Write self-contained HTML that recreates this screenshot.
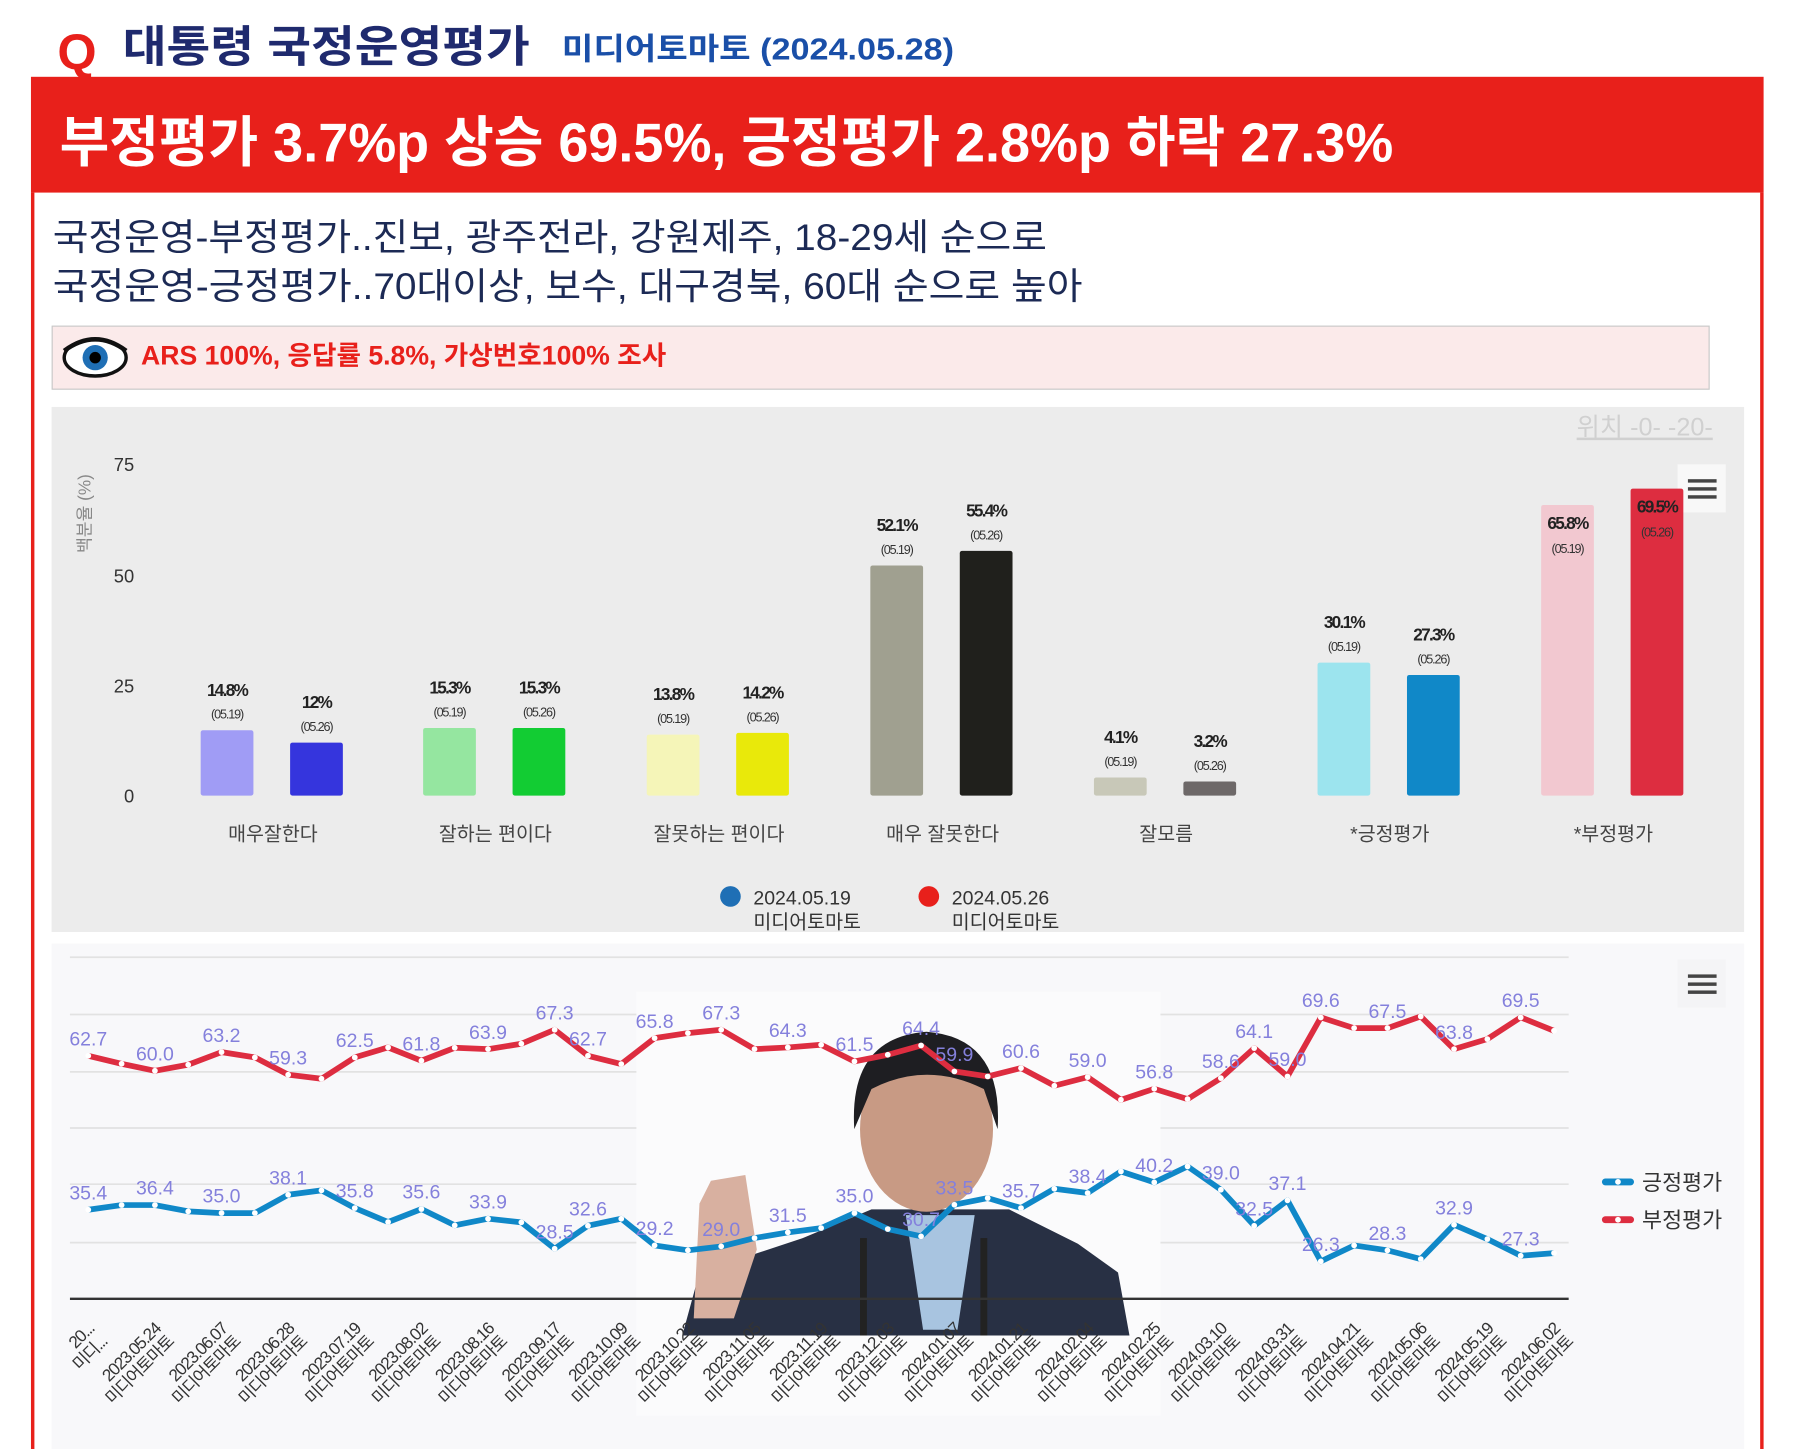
<!DOCTYPE html>
<html><head><meta charset="utf-8">
<style>
html,body{margin:0;padding:0;background:#fff;}
svg{display:block;}
text{font-family:"Liberation Sans","Noto Sans CJK KR",sans-serif;}
</style></head>
<body>
<svg id="s" width="1798" height="1449" viewBox="0 0 1568 1264" preserveAspectRatio="none" xmlns="http://www.w3.org/2000/svg">
<rect width="1568" height="1264" fill="#fff"/>
<text x="50" y="60" font-size="44" font-weight="bold" fill="#e8201b" font-family="Liberation Serif, serif">Q</text>
<text x="107" y="54" font-size="38" font-weight="bold" fill="#1f2a6e" textLength="355" lengthAdjust="spacingAndGlyphs">대통령 국정운영평가</text>
<text x="490" y="52" font-size="27" font-weight="bold" fill="#1a4fa8" textLength="342" lengthAdjust="spacingAndGlyphs">미디어토마토 (2024.05.28)</text>
<rect x="27" y="67" width="1511" height="101" fill="#e8201b"/>
<text x="52" y="141" font-size="48" font-weight="bold" fill="#fff" textLength="1163" lengthAdjust="spacingAndGlyphs">부정평가 3.7%p 상승 69.5%, 긍정평가 2.8%p 하락 27.3%</text>
<rect x="27" y="168" width="3" height="1096" fill="#e8201b"/>
<rect x="1535" y="168" width="3" height="1096" fill="#e8201b"/>
<text x="46" y="218" font-size="32" fill="#1c2a55" textLength="867" lengthAdjust="spacingAndGlyphs">국정운영-부정평가..진보, 광주전라, 강원제주, 18-29세 순으로</text>
<text x="46" y="261" font-size="32" fill="#1c2a55" textLength="898" lengthAdjust="spacingAndGlyphs">국정운영-긍정평가..70대이상, 보수, 대구경북, 60대 순으로 높아</text>
<rect x="45.5" y="284.5" width="1445" height="55" fill="#fbeaea" stroke="#c8c8c8"/>
<ellipse cx="83" cy="312" rx="27" ry="16" fill="#fff" stroke="#111" stroke-width="3"/>
<circle cx="83" cy="312" r="11" fill="#1f6fb5"/>
<circle cx="83" cy="312" r="5" fill="#000"/>
<path d="M56 306 Q83 286 110 306" fill="none" stroke="#111" stroke-width="4"/>
<text x="123" y="318" font-size="23" font-weight="bold" fill="#e8201b" textLength="458" lengthAdjust="spacingAndGlyphs">ARS 100%, 응답률 5.8%, 가상번호100% 조사</text>
<rect x="45" y="355" width="1476" height="458" fill="#ececec"/>
<text x="1375" y="380" font-size="22" fill="#d0d0d0" text-decoration="underline">위치 -0- -20-</text>
<rect x="1463" y="405" width="42" height="42" fill="#f8f8f8"/>
<rect x="1472" y="418" width="25" height="3" fill="#444"/><rect x="1472" y="425" width="25" height="3" fill="#444"/><rect x="1472" y="432" width="25" height="3" fill="#444"/>
<g font-size="16" fill="#333" text-anchor="end">
<text x="117" y="411">75</text><text x="117" y="508">50</text><text x="117" y="604">25</text><text x="117" y="700">0</text>
</g>
<text transform="translate(79,448) rotate(-90)" font-size="15" fill="#888" text-anchor="middle">백분율 (%)</text>
<g id="bars"></g>
<circle cx="637" cy="782" r="9" fill="#1f6fb5"/>
<text x="657" y="789" font-size="17" fill="#333">2024.05.19</text>
<text x="657" y="810" font-size="17" fill="#333">미디어토마토</text>
<circle cx="810" cy="782" r="9" fill="#e8201b"/>
<text x="830" y="789" font-size="17" fill="#333">2024.05.26</text>
<text x="830" y="810" font-size="17" fill="#333">미디어토마토</text>
<rect x="45" y="823" width="1476" height="441" fill="#f8f8fa"/>
<g stroke="#e2e2e2" stroke-width="1.5">
<line x1="61" x2="1368" y1="835" y2="835"/><line x1="61" x2="1368" y1="885" y2="885"/><line x1="61" x2="1368" y1="935" y2="935"/><line x1="61" x2="1368" y1="984" y2="984"/><line x1="61" x2="1368" y1="1033" y2="1033"/><line x1="61" x2="1368" y1="1084" y2="1084"/>
</g>
<rect x="555" y="865" width="457" height="370" fill="#fbfbfc"/>
<path d="M595 1165 L610 1110 L700 1080 L760 1055 L880 1055 L940 1085 L975 1110 L985 1165 Z" fill="#283044"/>
<path d="M790 1060 L850 1060 L835 1160 L805 1160 Z" fill="#a8c4e0"/>
<ellipse cx="808" cy="985" rx="58" ry="72" fill="#c89a84"/>
<path d="M745 985 Q740 905 808 900 Q875 905 870 985 L858 950 Q808 925 760 950 Z" fill="#1e1e22"/>
<path d="M605 1150 L610 1050 L620 1030 L650 1025 L660 1090 L640 1150 Z" fill="#d8b0a0"/>
<rect x="750" y="1080" width="6" height="85" fill="#222"/><rect x="855" y="1080" width="6" height="85" fill="#222"/>
<g id="lines"></g>
<line x1="61" x2="1368" y1="1133" y2="1133" stroke="#333" stroke-width="2"/>
<g id="xl"></g>
<line x1="1400" x2="1422" y1="1031" y2="1031" stroke="#1088c8" stroke-width="6" stroke-linecap="round"/><circle cx="1411" cy="1031" r="2.5" fill="#fff"/>
<text x="1432" y="1038" font-size="19" fill="#333">긍정평가</text>
<line x1="1400" x2="1422" y1="1064" y2="1064" stroke="#dd2d40" stroke-width="6" stroke-linecap="round"/><circle cx="1411" cy="1064" r="2.5" fill="#fff"/>
<text x="1432" y="1071" font-size="19" fill="#333">부정평가</text>
<rect x="1463" y="837" width="42" height="42" fill="#f4f4f6"/>
<rect x="1472" y="850" width="25" height="3" fill="#444"/><rect x="1472" y="857" width="25" height="3" fill="#444"/><rect x="1472" y="864" width="25" height="3" fill="#444"/>
</svg>
<script>
var NS="http://www.w3.org/2000/svg";
function el(p,t,a,txt){var e=document.createElementNS(NS,t);for(var k in a)e.setAttribute(k,a[k]);if(txt!==undefined)e.textContent=txt;p.appendChild(e);return e;}
var B=document.getElementById("bars");
var cats=["매우잘한다","잘하는 편이다","잘못하는 편이다","매우 잘못한다","잘모름","*긍정평가","*부정평가"];
var cx=[238,432,627,822,1017,1212,1407];
var v1=[14.8,15.3,13.8,52.1,4.1,30.1,65.8],v2=[12,15.3,14.2,55.4,3.2,27.3,69.5];
var c1=["#a09cf5","#95e6a0","#f5f5b8","#a0a090","#c8c8b8","#9ce4ee","#f2c8d0"];
var c2=["#3535dd","#12cc33","#e9e90a","#20201c","#6d6868","#1088c8","#dd2d40"];
function bar(x,v,c,d,lab){var top=694-v*3.853;el(B,"rect",{x:x-23,y:top,width:46,height:694-top,fill:c,rx:2});
var ly=top-30,dy=top-10;if(v>60){ly=top+21;dy=top+42;}
el(B,"text",{x:x,y:ly,"font-size":15,"font-weight":"bold","text-anchor":"middle",fill:"#222","letter-spacing":"-1.5"},lab);
el(B,"text",{x:x,y:dy,"font-size":11,"text-anchor":"middle",fill:"#333","letter-spacing":"-1"},d);}
for(var i=0;i<7;i++){bar(cx[i]-40,v1[i],c1[i],"(05.19)",v1[i]+"%");bar(cx[i]+38,v2[i],c2[i],"(05.26)",v2[i]+"%");
el(B,"text",{x:cx[i],y:733,"font-size":17,"text-anchor":"middle",fill:"#444"},cats[i]);}
var rY=[228,252,273,255,217,233,285,297,233,203,243,204,208,192,150,228,253,175,160,150,208,203,195,245,225,197,275,290,265,318,292,360,327,358,295,205,290,113,145,145,110,208,178,113,153];
var bY=[690,676,676,695,700,700,645,632,685,727,688,737,717,728,807,738,717,797,812,800,775,758,745,700,748,770,675,655,685,627,640,575,608,560,630,738,662,845,797,812,838,735,778,828,820];
var L=document.getElementById("lines");
function px(i){return 77+i*29.05;}function py(Y){return 854.7+Y*0.2907;}
function series(arr,col){var d="";for(var i=0;i<arr.length;i++)d+=(i?"L":"M")+px(i).toFixed(1)+" "+py(arr[i]).toFixed(1);
el(L,"path",{d:d,fill:"none",stroke:col,"stroke-width":5,"stroke-linejoin":"round"});
for(var i=0;i<arr.length;i++)el(L,"circle",{cx:px(i),cy:py(arr[i]),r:2.5,fill:"#fff"});}
series(rY,"#dd2d40");series(bY,"#1088c8");
var rl={0:"62.7",2:"60.0",4:"63.2",6:"59.3",8:"62.5",10:"61.8",12:"63.9",14:"67.3",15:"62.7",17:"65.8",19:"67.3",21:"64.3",23:"61.5",25:"64.4",26:"59.9",28:"60.6",30:"59.0",32:"56.8",34:"58.6",35:"64.1",36:"59.0",37:"69.6",39:"67.5",41:"63.8",43:"69.5"};
var bl={0:"35.4",2:"36.4",4:"35.0",6:"38.1",8:"35.8",10:"35.6",12:"33.9",14:"28.5",15:"32.6",17:"29.2",19:"29.0",21:"31.5",23:"35.0",25:"30.7",26:"33.5",28:"35.7",30:"38.4",32:"40.2",34:"39.0",35:"32.5",36:"37.1",37:"26.3",39:"28.3",41:"32.9",43:"27.3"};
function labs(m,arr){for(var k in m){var i=+k;el(L,"text",{x:px(i),y:py(arr[i])-9,"font-size":17,"text-anchor":"middle",fill:"#8480dc"},m[k]);}}
labs(rl,rY);labs(bl,bY);
var X=document.getElementById("xl");
var dates=["20...","2023.05.24","2023.06.07","2023.06.28","2023.07.19","2023.08.02","2023.08.16","2023.09.17","2023.10.09","2023.10.22","2023.11.05","2023.11.19","2023.12.03","2024.01.07","2024.01.21","2024.02.04","2024.02.25","2024.03.10","2024.03.31","2024.04.21","2024.05.06","2024.05.19","2024.06.02"];
for(var j=0;j<23;j++){var x=px(j*2)+6,y=1160;var g=el(X,"g",{transform:"translate("+x+","+y+") rotate(-45)"});
el(g,"text",{x:0,y:0,"font-size":15,"text-anchor":"end",fill:"#333","letter-spacing":"-1"},dates[j]);
el(g,"text",{x:0,y:16,"font-size":15,"text-anchor":"end",fill:"#333","letter-spacing":"-1"},j==0?"미디...":"미디어토마토");}
</script>
</body></html>
